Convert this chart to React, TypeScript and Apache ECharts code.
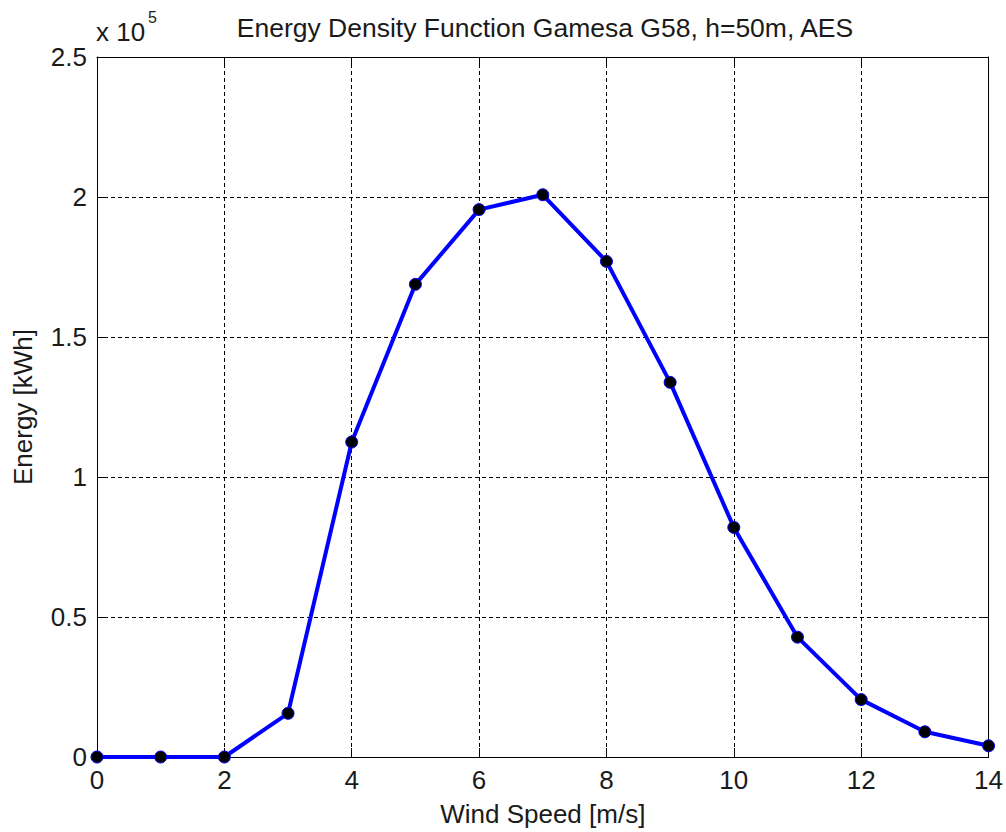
import React, { useEffect, useRef } from "react";
import * as echarts from "echarts";

const windSpeed = [0, 1, 2, 3, 4, 5, 6, 7, 8, 9, 10, 11, 12, 13, 14];
const energy = [0, 0, 0, 15600, 112500, 168800, 195500, 200800, 177000, 133800, 82000, 42800, 20500, 9000, 4000];
const xTicks = [0, 2, 4, 6, 8, 10, 12, 14];
const yTickLabels = ["0", "0.5", "1", "1.5", "2", "2.5"];

const FONT = "'Liberation Sans', Arial, sans-serif";

export default function App() {
  const ref = useRef<HTMLDivElement>(null);
  useEffect(() => {
    if (!ref.current) return;
    const chart = echarts.init(ref.current, undefined, { renderer: "svg" });
    const data = windSpeed.map((x, i) => [x, energy[i]]);
    const tickLen = 9;
    const labelColor = "#1a1a1a";
    chart.setOption({
      animation: false,
      backgroundColor: "#ffffff",
      grid: { left: 97, right: 16, top: 57, bottom: 72, containLabel: false },
      title: {
        text: "Energy Density Function Gamesa G58, h=50m, AES",
        left: 540,
        top: 9,
        textAlign: "center",
        textStyle: { fontFamily: FONT, fontSize: 26.5, fontWeight: "normal", color: labelColor },
      },
      graphic: [
        {
          type: "text",
          left: 96,
          top: 19,
          style: {
            text: "x 10",
            font: `26px ${FONT}`,
            fill: labelColor,
          },
        },
        {
          type: "text",
          left: 148,
          top: 9,
          style: {
            text: "5",
            font: `16px ${FONT}`,
            fill: labelColor,
          },
        },
      ],
      xAxis: [
        {
          type: "value",
          min: 0,
          max: 14,
          interval: 2,
          position: "bottom",
          name: "Wind Speed [m/s]",
          nameLocation: "middle",
          nameGap: 44,
          nameTextStyle: { fontFamily: FONT, fontSize: 26, color: labelColor },
          axisLine: { show: true, onZero: false, lineStyle: { color: "#000", width: 1 } },
          axisTick: { show: true, inside: true, length: tickLen, lineStyle: { color: "#000" } },
          axisLabel: {
            fontFamily: FONT,
            fontSize: 26,
            color: labelColor,
            margin: 10,
            formatter: (v: number) => (xTicks.includes(v) ? String(v) : ""),
          },
          splitLine: { show: true, lineStyle: { color: "#000", type: [4, 3], width: 1 } },
        },
        {
          type: "value",
          min: 0,
          max: 14,
          interval: 2,
          position: "top",
          axisLine: { show: true, onZero: false, lineStyle: { color: "#000", width: 1 } },
          axisTick: { show: true, inside: true, length: tickLen, lineStyle: { color: "#000" } },
          axisLabel: { show: false },
          splitLine: { show: false },
        },
      ],
      yAxis: [
        {
          type: "value",
          min: 0,
          max: 250000,
          interval: 50000,
          position: "left",
          name: "Energy [kWh]",
          nameLocation: "middle",
          nameGap: 61,
          nameRotate: 90,
          nameTextStyle: { fontFamily: FONT, fontSize: 26, color: labelColor },
          axisLine: { show: true, onZero: false, lineStyle: { color: "#000", width: 1 } },
          axisTick: { show: true, inside: true, length: tickLen, lineStyle: { color: "#000" } },
          axisLabel: {
            fontFamily: FONT,
            fontSize: 26,
            color: labelColor,
            margin: 10,
            formatter: (v: number) => yTickLabels[Math.round(v / 50000)] ?? "",
          },
          splitLine: { show: true, lineStyle: { color: "#000", type: [4, 3], width: 1 } },
        },
        {
          type: "value",
          min: 0,
          max: 250000,
          interval: 50000,
          position: "right",
          axisLine: { show: true, onZero: false, lineStyle: { color: "#000", width: 1 } },
          axisTick: { show: true, inside: true, length: tickLen, lineStyle: { color: "#000" } },
          axisLabel: { show: false },
          splitLine: { show: false },
        },
      ],
      series: [
        {
          type: "line",
          data,
          xAxisIndex: 0,
          yAxisIndex: 0,
          lineStyle: { color: "#0000ff", width: 4 },
          symbol: "circle",
          symbolSize: 12,
          showSymbol: true,
          itemStyle: { color: "#000000", borderColor: "#0000ff", borderWidth: 1 },
          z: 5,
        },
      ],
    });
    return () => chart.dispose();
  }, []);
  return (
    <div
      ref={ref}
      style={{ position: "fixed", left: 0, top: 0, width: 1006, height: 832, background: "#fff" }}
    />
  );
}
